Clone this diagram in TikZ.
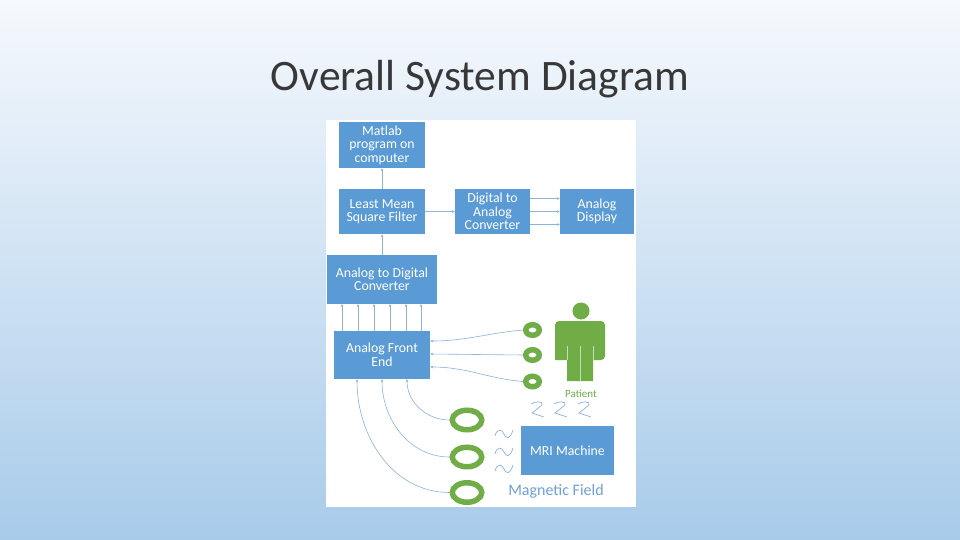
\documentclass[tikz,border=0pt]{standalone}
\usepackage{fontspec}
\setmainfont{Carlito}
\usetikzlibrary{arrows.meta,calc,shapes.geometric}
\definecolor{boxblue}{HTML}{5B9BD5}
\definecolor{linecol}{HTML}{8FB2DA}
\definecolor{ringgreen}{HTML}{70AD47}
\definecolor{bgtop}{HTML}{F6F9FD}
\definecolor{bgbot}{HTML}{A8CBEA}
\definecolor{fieldblue}{HTML}{6FA0D8}
\tikzset{
  blk/.style={fill=boxblue,draw=none,text=white,align=center,font=\fontsize{13.8}{13.5}\selectfont,inner sep=0pt},
  con/.style={draw=linecol,line width=0.6pt,-{Stealth[length=3pt,width=2.6pt]}},
  sring/.style={ellipse,draw=ringgreen,line width=5.5pt,minimum width=13.5pt,minimum height=10.5pt,inner sep=0pt},
  lring/.style={ellipse,draw=ringgreen,line width=5.5pt,minimum width=29.5pt,minimum height=19.5pt,inner sep=0pt},
  squig/.style={draw=fieldblue!80,line width=0.7pt},
}
\begin{document}
\begin{tikzpicture}[x=1pt,y=-1pt]
\useasboundingbox (0,0) rectangle (960,540);
\shade[top color=bgtop,bottom color=bgbot] (0,0) rectangle (960,540);
\node[font=\fontsize{43.5}{46}\selectfont,text=black!78] (title) at (480,79) {Overall System Diagram};
\fill[white] (326,120) rectangle (636,507);
% boxes
\node[blk,minimum width=86pt,minimum height=46pt] (matlab) at (382,145) {Matlab\\program on\\computer};
\node[blk,minimum width=86pt,minimum height=45pt] (lms) at (382,211.5) {Least Mean\\Square Filter};
\node[blk,minimum width=75pt,minimum height=45pt] (dac) at (492.5,211.5) {Digital to\\Analog\\Converter};
\node[blk,minimum width=74pt,minimum height=45pt] (disp) at (597,211.5) {Analog\\Display};
\node[blk,minimum width=110pt,minimum height=49pt] (adc) at (382,279.5) {Analog to Digital\\Converter};
\node[blk,minimum width=96pt,minimum height=48pt] (afe) at (382,355) {Analog Front\\End};
\node[blk,minimum width=93pt,minimum height=49pt] (mri) at (567.5,450.5) {MRI Machine};
% arrows
\draw[con] (lms.north) -- (matlab.south);
\draw[con] (adc.north) -- (lms.south);
\draw[con] (lms.east) -- (dac.west);
\foreach \dy in {-13,0,13}
  \draw[con] ($(dac.east)+(0,\dy)$) -- ($(disp.west)+(0,\dy)$);
\foreach \xx in {342,358,374,390,406,421}
  \draw[con] (\xx,331) -- (\xx,304);
% small rings
\node[sring] (e1) at (532.5,330) {};
\node[sring] (e2) at (532.5,355) {};
\node[sring] (e3) at (532.5,381.5) {};
\draw[con] (e1.west) to[out=185,in=0] ($(afe.east)+(0,-14)$);
\draw[con] (e2.west) -- ($(afe.east)+(0,-1)$);
\draw[con] (e3.west) to[out=175,in=0] ($(afe.east)+(0,12)$);
% large rings
\node[lring] (r1) at (467,420) {};
\node[lring] (r2) at (467,457) {};
\node[lring] (r3) at (467,492.5) {};
\draw[con] (r1.west) to[out=180,in=-90] ($(afe.south)+(25,0)$);
\draw[con] (r2.west) to[out=180,in=-90] (afe.south);
\draw[con] (r3.west) to[out=180,in=-90] ($(afe.south)+(-25,0)$);
% patient
\fill[ringgreen] (581,311) circle (8.5);
\fill[ringgreen,rounded corners=4pt] (555,360) -- (555,321) -- (605,321) -- (605,360) [sharp corners] -- (593,360) -- (593,381) -- (567,381) -- (567,360) -- cycle;
\draw[white!60!ringgreen,line width=0.6pt] (567,346) -- (567,360) (593,346) -- (593,360) (580,346) -- (580,381);
\node[text=ringgreen,font=\fontsize{11}{12}\selectfont] (pat) at (581,394) {Patient};
% squiggles (2-shapes)
\foreach \sx in {531,554,578}
  \draw[squig] (\sx,404) .. controls (\sx+4,401) and (\sx+13,401) .. (\sx+11,405) -- (\sx+1,413) -- (\sx+13,417);
% sine waves
\foreach \sy in {434,452,469}
  \draw[squig] (495,\sy+2) .. controls (497,\sy-6) and (502,\sy-5) .. (504,\sy) .. controls (506,\sy+5) and (510,\sy+6) .. (513,\sy-4);
\node[text=fieldblue,font=\fontsize{16}{18}\selectfont] (mf) at (556,491) {Magnetic Field};
\end{tikzpicture}
\end{document}
